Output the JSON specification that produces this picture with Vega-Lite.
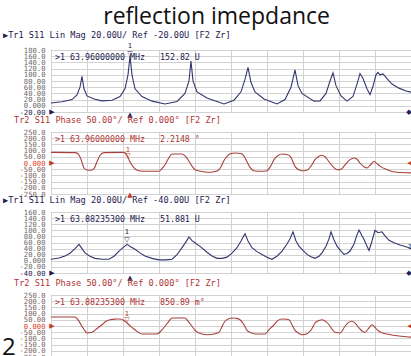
{
  "$schema": "https://vega.github.io/schema/vega-lite/v6.json",
  "padding": {"left": 1, "top": 6, "right": 0, "bottom": 0},
  "background": "white",
  "title": {"text": "reflection imepdance", "font": "Open Sans", "fontSize": 23, "fontWeight": "normal", "color": "#111111", "anchor": "middle", "dx": 9, "offset": 1},
  "spacing": -4,
  "datasets": {
    "p1": [{"f":0,"v":9},{"f":11,"v":13},{"f":21,"v":20},{"f":26,"v":35},{"f":29,"v":60},{"f":31,"v":95},{"f":33,"v":55},{"f":36,"v":32},{"f":43,"v":22},{"f":51,"v":16},{"f":61,"v":18},{"f":69,"v":30},{"f":74,"v":55},{"f":77,"v":100},{"f":79,"v":160},{"f":81,"v":100},{"f":84,"v":55},{"f":91,"v":30},{"f":101,"v":15},{"f":114,"v":6},{"f":126,"v":14},{"f":134,"v":40},{"f":138,"v":80},{"f":140,"v":144},{"f":142,"v":80},{"f":146,"v":45},{"f":156,"v":25},{"f":173,"v":6},{"f":183,"v":18},{"f":190,"v":45},{"f":194,"v":85},{"f":197,"v":124},{"f":200,"v":75},{"f":204,"v":45},{"f":213,"v":22},{"f":226,"v":6},{"f":234,"v":20},{"f":240,"v":60},{"f":244,"v":116},{"f":247,"v":65},{"f":251,"v":40},{"f":263,"v":15},{"f":269,"v":16},{"f":275,"v":40},{"f":279,"v":80},{"f":282,"v":106},{"f":285,"v":65},{"f":290,"v":32},{"f":296,"v":15},{"f":302,"v":30},{"f":306,"v":70},{"f":309,"v":104},{"f":312,"v":88},{"f":316,"v":55},{"f":319,"v":36},{"f":322,"v":63},{"f":325,"v":100},{"f":327,"v":108},{"f":329,"v":100},{"f":332,"v":103},{"f":336,"v":88},{"f":341,"v":70},{"f":348,"v":57},{"f":355,"v":48},{"f":360,"v":44}],
    "p2": [{"f":0,"v":86},{"f":24,"v":84},{"f":27,"v":75},{"f":30,"v":30},{"f":33,"v":-40},{"f":36,"v":-56},{"f":40,"v":-58},{"f":43,"v":-45},{"f":46,"v":10},{"f":49,"v":60},{"f":53,"v":84},{"f":73,"v":86},{"f":76,"v":60},{"f":79,"v":10},{"f":83,"v":-40},{"f":88,"v":-62},{"f":95,"v":-67},{"f":108,"v":-67},{"f":111,"v":-45},{"f":114,"v":-14},{"f":117,"v":30},{"f":121,"v":72},{"f":131,"v":73},{"f":135,"v":50},{"f":138,"v":14},{"f":141,"v":-25},{"f":144,"v":-54},{"f":150,"v":-67},{"f":156,"v":-75},{"f":163,"v":-70},{"f":167,"v":-60},{"f":170,"v":-30},{"f":173,"v":20},{"f":176,"v":54},{"f":180,"v":76},{"f":184,"v":81},{"f":190,"v":76},{"f":193,"v":55},{"f":196,"v":10},{"f":199,"v":-35},{"f":204,"v":-65},{"f":210,"v":-67},{"f":216,"v":-62},{"f":220,"v":-20},{"f":223,"v":27},{"f":227,"v":60},{"f":231,"v":72},{"f":236,"v":68},{"f":240,"v":45},{"f":244,"v":-27},{"f":248,"v":-55},{"f":251,"v":-63},{"f":256,"v":-58},{"f":260,"v":-25},{"f":264,"v":27},{"f":268,"v":55},{"f":271,"v":62},{"f":274,"v":50},{"f":278,"v":10},{"f":282,"v":-30},{"f":286,"v":-54},{"f":290,"v":-50},{"f":294,"v":-15},{"f":299,"v":27},{"f":303,"v":40},{"f":306,"v":30},{"f":309,"v":0},{"f":313,"v":-30},{"f":316,"v":-40},{"f":320,"v":-10},{"f":323,"v":12},{"f":326,"v":-5},{"f":329,"v":-25},{"f":336,"v":-54},{"f":346,"v":-75},{"f":360,"v":-80}],
    "p3": [{"f":0,"v":5},{"f":8,"v":9},{"f":14,"v":16},{"f":19,"v":25},{"f":24,"v":40},{"f":28,"v":54},{"f":31,"v":40},{"f":34,"v":26},{"f":39,"v":15},{"f":44,"v":8},{"f":51,"v":5},{"f":58,"v":5},{"f":63,"v":15},{"f":68,"v":32},{"f":72,"v":43},{"f":76,"v":54},{"f":80,"v":45},{"f":84,"v":38},{"f":89,"v":26},{"f":94,"v":16},{"f":101,"v":8},{"f":108,"v":3},{"f":115,"v":3},{"f":121,"v":5},{"f":126,"v":20},{"f":131,"v":43},{"f":135,"v":62},{"f":138,"v":78},{"f":141,"v":66},{"f":144,"v":59},{"f":150,"v":45},{"f":156,"v":28},{"f":161,"v":16},{"f":166,"v":8},{"f":171,"v":8},{"f":176,"v":12},{"f":181,"v":25},{"f":186,"v":43},{"f":190,"v":65},{"f":194,"v":89},{"f":197,"v":65},{"f":201,"v":43},{"f":206,"v":30},{"f":211,"v":21},{"f":216,"v":12},{"f":221,"v":5},{"f":226,"v":15},{"f":231,"v":32},{"f":236,"v":55},{"f":239,"v":72},{"f":242,"v":95},{"f":245,"v":65},{"f":248,"v":48},{"f":252,"v":34},{"f":256,"v":21},{"f":260,"v":13},{"f":264,"v":8},{"f":268,"v":15},{"f":271,"v":26},{"f":275,"v":48},{"f":278,"v":72},{"f":280,"v":95},{"f":283,"v":68},{"f":286,"v":48},{"f":290,"v":32},{"f":293,"v":21},{"f":296,"v":24},{"f":299,"v":32},{"f":303,"v":55},{"f":306,"v":85},{"f":308,"v":101},{"f":311,"v":82},{"f":313,"v":70},{"f":316,"v":48},{"f":318,"v":34},{"f":321,"v":65},{"f":324,"v":100},{"f":327,"v":92},{"f":331,"v":95},{"f":334,"v":82},{"f":338,"v":67},{"f":343,"v":59},{"f":349,"v":52},{"f":355,"v":46},{"f":360,"v":40}],
    "p4": [{"f":0,"v":73},{"f":24,"v":73},{"f":27,"v":50},{"f":31,"v":-2},{"f":34,"v":-40},{"f":36,"v":-56},{"f":41,"v":-50},{"f":46,"v":-20},{"f":51,"v":10},{"f":55,"v":38},{"f":59,"v":51},{"f":65,"v":56},{"f":69,"v":57},{"f":73,"v":45},{"f":76,"v":24},{"f":80,"v":-5},{"f":84,"v":-30},{"f":88,"v":-55},{"f":91,"v":-64},{"f":106,"v":-64},{"f":110,"v":-40},{"f":114,"v":-2},{"f":118,"v":40},{"f":121,"v":65},{"f":134,"v":65},{"f":137,"v":40},{"f":141,"v":-2},{"f":144,"v":-35},{"f":148,"v":-56},{"f":156,"v":-70},{"f":163,"v":-65},{"f":168,"v":-51},{"f":171,"v":-5},{"f":174,"v":38},{"f":178,"v":60},{"f":181,"v":65},{"f":185,"v":62},{"f":189,"v":51},{"f":193,"v":10},{"f":196,"v":-35},{"f":200,"v":-55},{"f":204,"v":-64},{"f":214,"v":-64},{"f":218,"v":-30},{"f":223,"v":10},{"f":227,"v":45},{"f":231,"v":57},{"f":235,"v":55},{"f":238,"v":51},{"f":241,"v":10},{"f":244,"v":-35},{"f":248,"v":-60},{"f":251,"v":-70},{"f":256,"v":-62},{"f":261,"v":-20},{"f":264,"v":24},{"f":268,"v":45},{"f":271,"v":51},{"f":275,"v":35},{"f":278,"v":10},{"f":281,"v":-25},{"f":284,"v":-51},{"f":289,"v":-56},{"f":294,"v":-2},{"f":297,"v":25},{"f":301,"v":38},{"f":305,"v":15},{"f":308,"v":-16},{"f":311,"v":-40},{"f":314,"v":-51},{"f":318,"v":-15},{"f":321,"v":10},{"f":324,"v":-10},{"f":326,"v":-30},{"f":331,"v":-55},{"f":336,"v":-64},{"f":346,"v":-78},{"f":358,"v":-89},{"f":360,"v":-90}]
  },
  "vconcat": [
    {
      "width": 360, "height": 62,
      "title": {"text": "▶Tr1 S11 Lin Mag 20.00U/ Ref -20.00U [F2 Zr]", "anchor": "start", "frame": "group", "dx": -48, "font": "DejaVu Sans Mono", "fontSize": 8.6, "fontWeight": "normal", "color": "#1e2050", "offset": 3},
      "encoding": {
        "x": {"field": "f", "type": "quantitative", "scale": {"domain": [0, 360], "nice": false, "zero": false}, "axis": {"values": [0,36,72,108,144,180,216,252,288,324,360], "labels": false, "ticks": false, "domain": false, "grid": true, "title": null}},
        "y": {"field": "v", "type": "quantitative", "scale": {"domain": [-20, 180], "nice": false, "zero": false}, "axis": {"values": [-20,0,20,40,60,80,100,120,140,160,180], "title": null, "labelColor": {"expr": "datum.value == -20 ? '#1e2050' : '#6a6a6a'"}, "labelExpr": "replace(datum.value == 0 ? '0.000' : (abs(datum.value) >= 100 ? format(datum.value, '.1f') : format(datum.value, '.2f')), '\u2212', '-')"}}
      },
      "layer": [
        {"data": {"name": "p1"}, "mark": {"type": "line", "color": "#33366e", "strokeWidth": 1.1}},
        {"data": {"values": [{"f": 4, "v": 154, "t": ">1\u00a063.96000000\u00a0MHz\u00a0\u00a0\u00a0152.82\u00a0U"}]}, "mark": {"type": "text", "align": "left", "baseline": "middle", "font": "DejaVu Sans Mono", "fontSize": 8.3, "color": "#1e2050"}, "encoding": {"text": {"field": "t"}}},
        {"data": {"values": [{"f": 79, "v": 168, "t": "▽"}, {"f": 79, "v": 192, "t": "1"}, {"f": 1, "v": -20, "t": "▶"}, {"f": 79, "v": -31, "t": "▲"}, {"f": 358, "v": -20, "t": "◆"}]}, "mark": {"type": "text", "font": "DejaVu Sans", "fontSize": 7, "color": "#1e2050"}, "encoding": {"text": {"field": "t"}}}
      ]
    },
    {
      "width": 360, "height": 62,
      "title": {"text": "Tr2 S11 Phase 50.00°/ Ref 0.000° [F2 Zr]", "anchor": "start", "frame": "group", "dx": -37, "font": "DejaVu Sans Mono", "fontSize": 8.6, "fontWeight": "normal", "color": "#b03434", "offset": 3},
      "encoding": {
        "x": {"field": "f", "type": "quantitative", "scale": {"domain": [0, 360], "nice": false, "zero": false}, "axis": {"values": [0,36,72,108,144,180,216,252,288,324,360], "labels": false, "ticks": false, "domain": false, "grid": true, "title": null}},
        "y": {"field": "v", "type": "quantitative", "scale": {"domain": [-250, 250], "nice": false, "zero": false}, "axis": {"values": [-250,-200,-150,-100,-50,0,50,100,150,200,250], "title": null, "labelColor": {"expr": "datum.value == 0 ? '#e03c1e' : '#7a6464'"}, "labelExpr": "replace(datum.value == 0 ? '0.000' : (abs(datum.value) >= 100 ? format(datum.value, '.1f') : format(datum.value, '.2f')), '\u2212', '-')"}}
      },
      "layer": [
        {"data": {"name": "p2"}, "mark": {"type": "line", "color": "#a8403c", "strokeWidth": 1.1, "interpolate": "monotone"}},
        {"data": {"values": [{"f": 4, "v": 185, "t": ">1\u00a063.96000000\u00a0MHz\u00a0\u00a0\u00a02.2148\u00a0°"}]}, "mark": {"type": "text", "align": "left", "baseline": "middle", "font": "DejaVu Sans Mono", "fontSize": 8.3, "color": "#b03434"}, "encoding": {"text": {"field": "t"}}},
        {"data": {"values": [{"f": 77, "v": 60, "t": "▽"}, {"f": 77, "v": 105, "t": "1"}, {"f": 1, "v": 0, "t": "▶"}, {"f": 79, "v": -262, "t": "▲"}, {"f": 359, "v": 4, "t": "◀"}]}, "mark": {"type": "text", "font": "DejaVu Sans", "fontSize": 7, "color": "#c03a2a"}, "encoding": {"text": {"field": "t"}}}
      ]
    },
    {
      "width": 360, "height": 61,
      "title": {"text": "▶Tr1 S11 Lin Mag 20.00U/ Ref -40.00U [F2 Zr]", "anchor": "start", "frame": "group", "dx": -48, "font": "DejaVu Sans Mono", "fontSize": 8.6, "fontWeight": "normal", "color": "#1e2050", "offset": 3},
      "encoding": {
        "x": {"field": "f", "type": "quantitative", "scale": {"domain": [0, 360], "nice": false, "zero": false}, "axis": {"values": [0,36,72,108,144,180,216,252,288,324,360], "labels": false, "ticks": false, "domain": false, "grid": true, "title": null}},
        "y": {"field": "v", "type": "quantitative", "scale": {"domain": [-40, 160], "nice": false, "zero": false}, "axis": {"values": [-40,-20,0,20,40,60,80,100,120,140,160], "title": null, "labelColor": {"expr": "datum.value == -40 ? '#1e2050' : '#6a6a6a'"}, "labelExpr": "replace(datum.value == 0 ? '0.000' : (abs(datum.value) >= 100 ? format(datum.value, '.1f') : format(datum.value, '.2f')), '\u2212', '-')"}}
      },
      "layer": [
        {"data": {"name": "p3"}, "mark": {"type": "line", "color": "#33366e", "strokeWidth": 1.1}},
        {"data": {"values": [{"f": 4, "v": 134, "t": ">1\u00a063.88235300\u00a0MHz\u00a0\u00a0\u00a051.881\u00a0U"}]}, "mark": {"type": "text", "align": "left", "baseline": "middle", "font": "DejaVu Sans Mono", "fontSize": 8.3, "color": "#1e2050"}, "encoding": {"text": {"field": "t"}}},
        {"data": {"values": [{"f": 76, "v": 68, "t": "▽"}, {"f": 76, "v": 96, "t": "1"}, {"f": 1, "v": -40, "t": "▶"}, {"f": 79, "v": -56, "t": "▲"}, {"f": 358, "v": -40, "t": "◆"}, {"f": 359, "v": 45, "t": "1"}]}, "mark": {"type": "text", "font": "DejaVu Sans", "fontSize": 7, "color": "#1e2050"}, "encoding": {"text": {"field": "t"}}}
      ]
    },
    {
      "width": 360, "height": 62,
      "title": {"text": "Tr2 S11 Phase 50.00°/ Ref 0.000° [F2 Zr]", "anchor": "start", "frame": "group", "dx": -37, "font": "DejaVu Sans Mono", "fontSize": 8.6, "fontWeight": "normal", "color": "#b03434", "offset": 3},
      "encoding": {
        "x": {"field": "f", "type": "quantitative", "scale": {"domain": [0, 360], "nice": false, "zero": false}, "axis": {"values": [0,36,72,108,144,180,216,252,288,324,360], "labels": false, "ticks": false, "domain": false, "grid": true, "title": null}},
        "y": {"field": "v", "type": "quantitative", "scale": {"domain": [-250, 250], "nice": false, "zero": false}, "axis": {"values": [-250,-200,-150,-100,-50,0,50,100,150,200,250], "title": null, "labelColor": {"expr": "datum.value == 0 ? '#e03c1e' : '#7a6464'"}, "labelExpr": "replace(datum.value == 0 ? '0.000' : (abs(datum.value) >= 100 ? format(datum.value, '.1f') : format(datum.value, '.2f')), '\u2212', '-')"}}
      },
      "layer": [
        {"data": {"name": "p4"}, "mark": {"type": "line", "color": "#a8403c", "strokeWidth": 1.1, "interpolate": "monotone"}},
        {"data": {"values": [{"f": 4, "v": 185, "t": ">1\u00a063.88235300\u00a0MHz\u00a0\u00a0\u00a0850.89\u00a0m°"}]}, "mark": {"type": "text", "align": "left", "baseline": "middle", "font": "DejaVu Sans Mono", "fontSize": 8.3, "color": "#b03434"}, "encoding": {"text": {"field": "t"}}},
        {"data": {"values": [{"f": 76, "v": 45, "t": "▽"}, {"f": 76, "v": 95, "t": "1"}, {"f": 1, "v": 0, "t": "▶"}, {"f": 359, "v": 4, "t": "◀"}]}, "mark": {"type": "text", "font": "DejaVu Sans", "fontSize": 7, "color": "#c03a2a"}, "encoding": {"text": {"field": "t"}}},
        {"data": {"values": [{"f": -49, "v": -180, "t": "2"}]}, "mark": {"type": "text", "align": "left", "baseline": "middle", "font": "Open Sans", "fontSize": 24, "color": "#111111"}, "encoding": {"text": {"field": "t"}}}
      ]
    }
  ],
  "config": {
    "view": {"stroke": "#8c8c8c", "strokeWidth": 1},
    "axis": {"gridColor": "#d2d2d2", "gridWidth": 1, "ticks": false, "domain": false, "labelFont": "DejaVu Sans Mono", "labelFontSize": 7.2, "labelPadding": 6, "labelOverlap": false, "labelFlush": false, "labelBound": false}
  }
}
